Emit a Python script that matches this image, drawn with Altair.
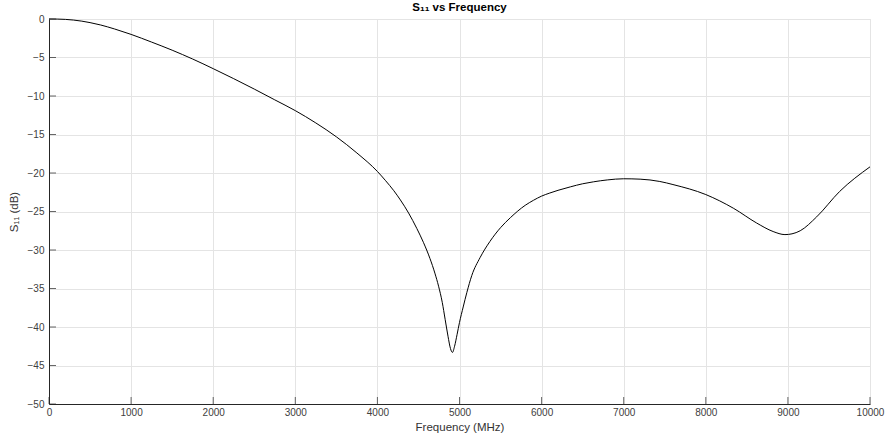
import altair as alt
import pandas as pd

freq = [0, 100, 200, 300, 400, 500, 630, 800, 1000, 1250, 1500, 1750, 2000, 2250,
        2500, 2750, 3000, 3250, 3500, 3750, 4000, 4100, 4200, 4280, 4380, 4480,
        4560, 4640, 4700, 4745, 4790, 4825, 4860, 4890, 4914, 4940, 4970, 5000,
        5045, 5090, 5150, 5250, 5370, 5500, 5620, 5800, 5900, 6000, 6100, 6200,
        6350, 6500, 6630, 6800, 7000, 7200, 7440, 7600, 8000, 8340, 8620, 8820,
        8964, 9050, 9150, 9350, 9630, 10000]
s11 = [0.0, -0.01, -0.05, -0.14, -0.28, -0.47, -0.78, -1.3, -2.0, -3.0, -4.05,
       -5.2, -6.45, -7.75, -9.1, -10.5, -11.9, -13.5, -15.3, -17.4, -19.8, -21.0,
       -22.3, -23.5, -25.2, -27.2, -29.0, -31.1, -33.0, -34.7, -36.8, -39.0,
       -41.2, -42.8, -43.3, -42.5, -41.0, -39.4, -37.4, -35.5, -33.3, -31.0,
       -28.9, -27.1, -25.8, -24.2, -23.55, -23.0, -22.6, -22.25, -21.8, -21.4,
       -21.15, -20.9, -20.75, -20.8, -21.1, -21.5, -22.8, -24.6, -26.5, -27.6,
       -28.0, -27.9, -27.5, -25.7, -22.4, -19.2]

x_ticks = [0, 1000, 2000, 3000, 4000, 5000, 6000, 7000, 8000, 9000, 10000]
y_ticks = [0, -5, -10, -15, -20, -25, -30, -35, -40, -45, -50]
title_text = ["S₁₁ vs Frequency"]

W, H = 821, 385
df = pd.DataFrame({"f": freq, "s": s11})
xt = pd.DataFrame({"f": x_ticks})
yt = pd.DataFrame({"s": y_ticks})
tt = pd.DataFrame({"t": title_text})

FONT = "Liberation Sans"
AX = "#262626"

xscale = alt.Scale(domain=[0, 10000], nice=False, zero=False)
yscale = alt.Scale(domain=[-50, 0], nice=False, zero=False)

xaxis = alt.Axis(values=x_ticks, title="Frequency (MHz)", format="d",
                 grid=True, gridColor="#e4e4e4", gridWidth=1,
                 domainColor=AX, domainWidth=1, tickSize=0,
                 labelPadding=3, labelFontSize=10, labelColor="#404040",
                 labelFont=FONT, titleFont=FONT, titleFontSize=11.5,
                 titleFontWeight="normal", titleColor="#333333",
                 titlePadding=4, labelFlush=False, labelOverlap=False)
yaxis = alt.Axis(values=y_ticks, title="S₁₁ (dB)", format="d",
                 grid=True, gridColor="#e4e4e4", gridWidth=1,
                 domainColor=AX, domainWidth=1, tickSize=0,
                 labelPadding=5, labelFontSize=10, labelColor="#404040",
                 labelFont=FONT, titleFont=FONT, titleFontSize=11.5,
                 titleFontWeight="normal", titleColor="#333333",
                 titlePadding=8, labelFlush=False, labelOverlap=False)

line = alt.Chart(df).mark_line(color="#000000", strokeWidth=1, interpolate="monotone").encode(
    x=alt.X("f:Q", scale=xscale, axis=xaxis),
    y=alt.Y("s:Q", scale=yscale, axis=yaxis),
)

xticks = alt.Chart(xt).mark_tick(color=AX, size=7, thickness=1, orient="vertical").encode(
    x=alt.X("f:Q", scale=xscale, axis=xaxis), y=alt.value(H - 3.5))
yticks = alt.Chart(yt).mark_tick(color=AX, size=7, thickness=1, orient="horizontal").encode(
    y=alt.Y("s:Q", scale=yscale, axis=yaxis), x=alt.value(3.5))

title = alt.Chart(tt).mark_text(font=FONT, fontSize=11.5, fontWeight="bold", color="#000000",
                                align="center", baseline="alphabetic").encode(
    text="t:N", x=alt.value(W / 2), y=alt.value(-8))

chart = alt.layer(line, xticks, yticks, title).properties(
    width=W, height=H,
    autosize=alt.AutoSizeParams(type="none"),
    padding={"left": 49, "top": 19, "right": 15, "bottom": 42},
).configure_view(stroke=None).configure(background="white")

chart.save("out.html", embed_options={"renderer": "svg", "actions": False})
